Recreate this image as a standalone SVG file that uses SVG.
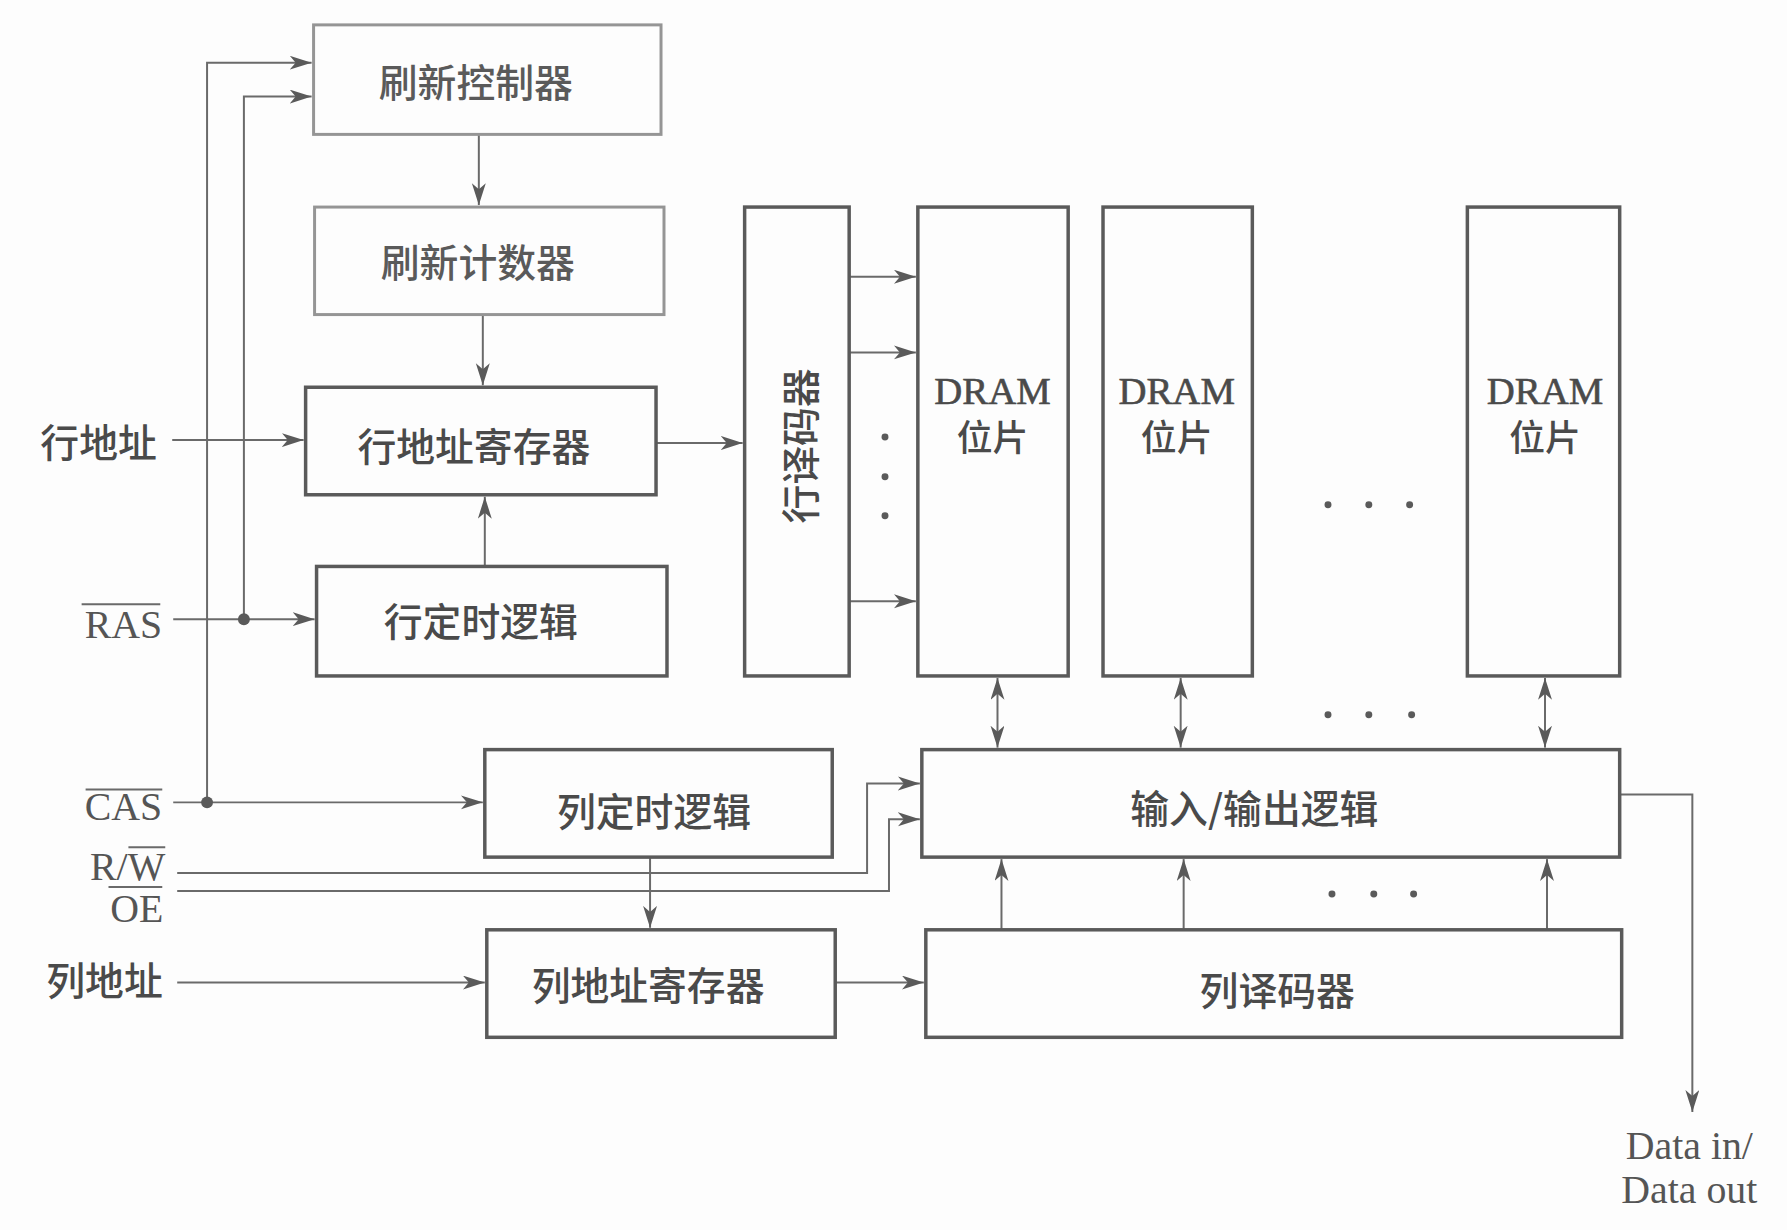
<svg xmlns="http://www.w3.org/2000/svg" width="1787" height="1230" viewBox="0 0 1787 1230">
<style>
.box{fill:none;stroke:#5a5a5a;stroke-width:3.5}
.lbox{fill:none;stroke:#959595;stroke-width:3}
.cn{font-family:"Noto Sans CJK SC","Noto Sans",sans-serif;font-size:39px;font-weight:500;fill:#4a4a4a;text-anchor:middle;dominant-baseline:central}
.lcn{fill:#5a5a5a}
.sf{font-family:"Liberation Serif","Times New Roman",serif;font-size:40px;fill:#555;dominant-baseline:central}
.dr{font-family:"Liberation Serif","Times New Roman",serif;font-size:39px;fill:#4a4a4a;text-anchor:middle;stroke:#4a4a4a;stroke-width:0.6}
.ln{fill:none;stroke:#6a6a6a;stroke-width:2}
.ol{stroke:#6a6a6a;stroke-width:2}
.dot{fill:#5a5a5a}
</style>
<defs>
<marker id="ah" markerUnits="userSpaceOnUse" markerWidth="24" markerHeight="16" refX="22" refY="7" orient="auto">
<path d="M0,0 L22,7 L0,14 L6,7 z" fill="#5a5a5a"/>
</marker>
<marker id="as" markerUnits="userSpaceOnUse" markerWidth="24" markerHeight="16" refX="22" refY="7" orient="auto-start-reverse">
<path d="M0,0 L22,7 L0,14 L6,7 z" fill="#5a5a5a"/>
</marker>
</defs>
<rect width="1787" height="1230" fill="#fdfdfd"/>
<g transform="scale(0.9955)">
<g id="connectors">
<path class="ln" d="M208 806 V63 H313" marker-end="url(#ah)"/>
<path class="ln" d="M245 622 V97 H313" marker-end="url(#ah)"/>
<path class="ln" d="M174 622 H316" marker-end="url(#ah)"/>
<path class="ln" d="M174 806 H485" marker-end="url(#ah)"/>
<path class="ln" d="M173 442 H305" marker-end="url(#ah)"/>
<path class="ln" d="M481 135 V206" marker-end="url(#ah)"/>
<path class="ln" d="M485 316 V387" marker-end="url(#ah)"/>
<path class="ln" d="M487 569 V499" marker-end="url(#ah)"/>
<path class="ln" d="M659 445 H746" marker-end="url(#ah)"/>
<path class="ln" d="M853 278 H920" marker-end="url(#ah)"/>
<path class="ln" d="M853 354 H920" marker-end="url(#ah)"/>
<path class="ln" d="M853 604 H920" marker-end="url(#ah)"/>
<path class="ln" d="M1002 681 V751" marker-start="url(#as)" marker-end="url(#ah)"/>
<path class="ln" d="M1186 681 V751" marker-start="url(#as)" marker-end="url(#ah)"/>
<path class="ln" d="M1552 681 V751" marker-start="url(#as)" marker-end="url(#ah)"/>
<path class="ln" d="M1006 934 V863" marker-end="url(#ah)"/>
<path class="ln" d="M1189 934 V863" marker-end="url(#ah)"/>
<path class="ln" d="M1554 934 V863" marker-end="url(#ah)"/>
<path class="ln" d="M653 861 V932" marker-end="url(#ah)"/>
<path class="ln" d="M178 987 H487" marker-end="url(#ah)"/>
<path class="ln" d="M839 987 H928" marker-end="url(#ah)"/>
<path class="ln" d="M178 877 H871 V787 H924" marker-end="url(#ah)"/>
<path class="ln" d="M178 895 H893 V823 H924" marker-end="url(#ah)"/>
<path class="ln" d="M1627 798 H1700 V1117" marker-end="url(#ah)"/>
<circle class="dot" cx="245" cy="622" r="6"/>
<circle class="dot" cx="208" cy="806" r="6"/>
</g>

<g id="refresh-controller"><rect class="lbox" x="315" y="25" width="349" height="110"/><text class="cn lcn" x="478" y="80">刷新控制器</text></g>
<g id="refresh-counter"><rect class="lbox" x="316" y="208" width="351" height="108"/><text class="cn lcn" x="480" y="261">刷新计数器</text></g>
<g id="row-address-register"><rect class="box" x="307" y="389" width="352" height="108"/><text class="cn" x="476" y="446">行地址寄存器</text></g>
<g id="row-timing"><rect class="box" x="318" y="569" width="352" height="110"/><text class="cn" x="483" y="622">行定时逻辑</text></g>
<g id="row-decoder"><rect class="box" x="748" y="208" width="105" height="471"/><text class="cn" transform="translate(802 448) rotate(-90)" x="0" y="0">行译码器</text></g>
<g id="dram1"><rect class="box" x="922" y="208" width="151" height="471"/><text class="dr" x="997" y="406">DRAM</text><text class="cn" x="997" y="437" style="font-size:36px">位片</text></g>
<g id="dram2"><rect class="box" x="1108" y="208" width="150" height="471"/><text class="dr" x="1182" y="406">DRAM</text><text class="cn" x="1182" y="437" style="font-size:36px">位片</text></g>
<g id="dram3"><rect class="box" x="1474" y="208" width="153" height="471"/><text class="dr" x="1552" y="406">DRAM</text><text class="cn" x="1552" y="437" style="font-size:36px">位片</text></g>
<g id="io-logic"><rect class="box" x="926" y="753" width="701" height="108"/><text class="cn" x="1260" y="810">输入/输出逻辑</text></g>
<g id="col-timing"><rect class="box" x="487" y="753" width="349" height="108"/><text class="cn" x="657" y="813">列定时逻辑</text></g>
<g id="col-address-register"><rect class="box" x="489" y="934" width="350" height="108"/><text class="cn" x="651" y="987">列地址寄存器</text></g>
<g id="col-decoder"><rect class="box" x="930" y="934" width="699" height="108"/><text class="cn" x="1283" y="992">列译码器</text></g>

<g id="dots">
<circle class="dot" cx="889" cy="439" r="3.5"/><circle class="dot" cx="889" cy="479" r="3.5"/><circle class="dot" cx="889" cy="518" r="3.5"/>
<circle class="dot" cx="1334" cy="507" r="3.5"/><circle class="dot" cx="1375" cy="507" r="3.5"/><circle class="dot" cx="1416" cy="507" r="3.5"/>
<circle class="dot" cx="1334" cy="718" r="3.5"/><circle class="dot" cx="1375" cy="718" r="3.5"/><circle class="dot" cx="1418" cy="718" r="3.5"/>
<circle class="dot" cx="1338" cy="898" r="3.5"/><circle class="dot" cx="1380" cy="898" r="3.5"/><circle class="dot" cx="1420" cy="898" r="3.5"/>
</g>

<g id="labels">
<text class="cn" x="99" y="442">行地址</text>
<text class="cn" x="105" y="982">列地址</text>
<text class="sf" x="163" y="628" text-anchor="end">RAS</text>
<line class="ol" x1="82" y1="607" x2="161" y2="607"/>
<text class="sf" x="163" y="811" text-anchor="end">CAS</text>
<line class="ol" x1="86" y1="793" x2="163" y2="793"/>
<text class="sf" x="166" y="871" text-anchor="end">R/W</text>
<line class="ol" x1="129" y1="851" x2="166" y2="851"/>
<text class="sf" x="164" y="913" text-anchor="end">OE</text>
<line class="ol" x1="109" y1="891" x2="163" y2="891"/>
<text class="sf" x="1697" y="1151" text-anchor="middle">Data in/</text>
<text class="sf" x="1697" y="1195" text-anchor="middle">Data out</text>
</g>
</g>
</svg>
